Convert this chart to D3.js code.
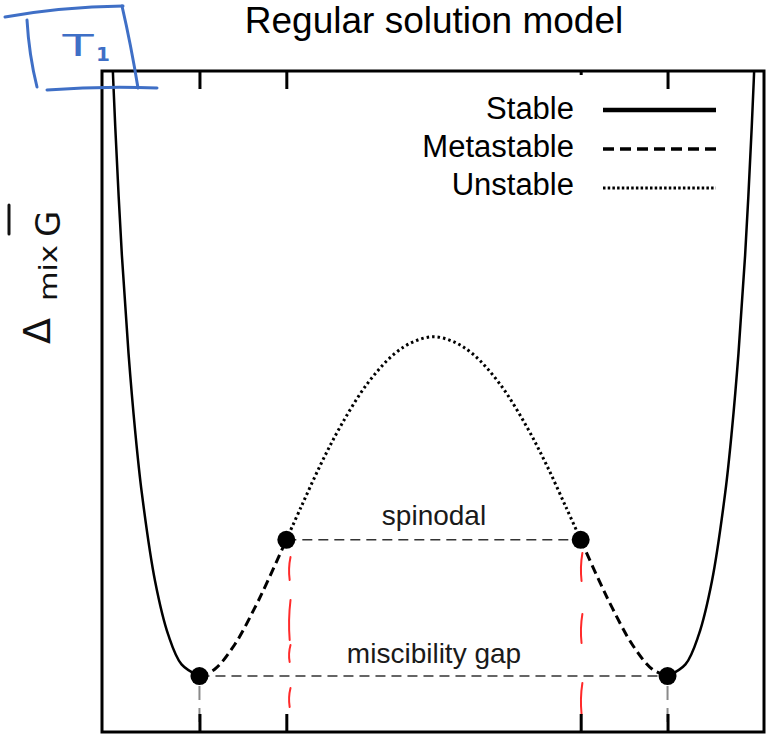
<!DOCTYPE html>
<html>
<head>
<meta charset="utf-8">
<script src="https://cdn.jsdelivr.net/npm/d3@7"></script>
<style>
  html, body { margin: 0; padding: 0; background: #fff; }
  svg { display: block; }
</style>
</head>
<body>
<svg id="chart" width="768" height="735"></svg>
<script>
// ---- data ----
const compositionX = [0.01, 0.015, 0.02, 0.03, 0.04, 0.05, 0.06, 0.08, 0.10, 0.12, 0.147, 0.17, 0.20, 0.23, 0.25, 0.278, 0.30, 0.33, 0.36, 0.40, 0.44, 0.47, 0.50,
  0.53, 0.56, 0.60, 0.64, 0.67, 0.70, 0.722, 0.75, 0.77, 0.80, 0.83, 0.853, 0.88, 0.90, 0.92, 0.94, 0.95, 0.96, 0.97, 0.98, 0.985, 0.99];
const gibbsG = [-0.0314, -0.0411, -0.0492, -0.0623, -0.0723, -0.0802, -0.0865, -0.0955, -0.1010, -0.1040, -0.1052, -0.1045, -0.1020, -0.0983, -0.0955, -0.0913, -0.0880, -0.0836, -0.0797, -0.0754, -0.0724, -0.0711, -0.0706,
  -0.0711, -0.0724, -0.0754, -0.0797, -0.0836, -0.0880, -0.0913, -0.0955, -0.0983, -0.1020, -0.1045, -0.1052, -0.1040, -0.1010, -0.0955, -0.0865, -0.0802, -0.0723, -0.0623, -0.0492, -0.0411, -0.0314];
const binodalX = [0.147, 0.853];
const spinodalX = [0.278, 0.722];
const binodalG = -0.1052;
const spinodalG = -0.0913;
const legendLabels = ["Stable", "Metastable", "Unstable"];
const titleText = "Regular solution model";
const spinodalLabel = "spinodal";
const gapLabel = "miscibility gap";

// ---- layout ----
const svg = d3.select("#chart");
const L = 102, R = 764, T = 71, B = 732;
const x = d3.scaleLinear().domain([0, 1]).range([L, 765]);
const y = d3.scaleLinear().domain([-0.1109, -0.0435]).range([B, T]);
const font = "'Liberation Sans', Arial, Helvetica, sans-serif";

svg.append("defs").append("clipPath").attr("id", "plotclip")
  .append("rect").attr("x", L).attr("y", T).attr("width", R - L).attr("height", B - T);

// title
svg.append("text").attr("x", 434).attr("y", 33).attr("text-anchor", "middle")
  .attr("font-family", font).attr("font-size", 37).attr("fill", "#000").text(titleText);

// curve segments
const pts = compositionX.map((v, i) => ({ x: v, g: gibbsG[i] }));
const line = d3.line().x(d => x(d.x)).y(d => y(d.g)).curve(d3.curveCatmullRom.alpha(0.5));
const segs = [
  { f: d => d.x <= binodalX[0], type: 0 },
  { f: d => d.x >= binodalX[0] && d.x <= spinodalX[0], type: 1 },
  { f: d => d.x >= spinodalX[0] && d.x <= spinodalX[1], type: 2 },
  { f: d => d.x >= spinodalX[1] && d.x <= binodalX[1], type: 1 },
  { f: d => d.x >= binodalX[1], type: 0 }
];
const styles = [
  { w: 2.5, dash: null },
  { w: 3, dash: "9,5" },
  { w: 3, dash: "2.5,3" }
];
const cg = svg.append("g").attr("clip-path", "url(#plotclip)");
segs.forEach(s => {
  const st = styles[s.type];
  cg.append("path").attr("d", line(pts.filter(s.f)))
    .attr("fill", "none").attr("stroke", "#000").attr("stroke-width", st.w)
    .attr("stroke-dasharray", st.dash);
});

// horizontal tie lines
svg.append("line").attr("x1", x(spinodalX[0])).attr("x2", x(spinodalX[1]))
  .attr("y1", y(spinodalG)).attr("y2", y(spinodalG))
  .attr("stroke", "#333").attr("stroke-width", 1.5).attr("stroke-dasharray", "10,6");
svg.append("line").attr("x1", x(binodalX[0])).attr("x2", x(binodalX[1]))
  .attr("y1", y(binodalG)).attr("y2", y(binodalG))
  .attr("stroke", "#333").attr("stroke-width", 1.5).attr("stroke-dasharray", "10,6");

// gray drop lines below binodal points
binodalX.forEach(b => {
  svg.append("line").attr("x1", x(b)).attr("x2", x(b))
    .attr("y1", y(binodalG) + 10).attr("y2", B - 2)
    .attr("stroke", "#8a8a8a").attr("stroke-width", 2).attr("stroke-dasharray", "14,8");
});

// red hand-drawn dashed lines below spinodal points
const redSegs = [[557, 580], [600, 640], [645, 662], [688, 707]];
const redSegsR = [[553, 581], [614, 643], [683, 714]];
function wobble(x0, a, b, k) {
  return `M${x0 + k},${a} Q${x0 - k},${(a + b) / 2} ${x0 + k * 0.3},${b}`;
}
redSegs.forEach(s => {
  svg.append("path").attr("d", wobble(x(spinodalX[0]) + 3, s[0], s[1], 1.2))
    .attr("fill", "none").attr("stroke", "#ff2a2a").attr("stroke-width", 2).attr("stroke-linecap", "round");
});
redSegsR.forEach(s => {
  svg.append("path").attr("d", wobble(x(spinodalX[1]) + 0.5, s[0], s[1], 1.2))
    .attr("fill", "none").attr("stroke", "#ff2a2a").attr("stroke-width", 2).attr("stroke-linecap", "round");
});

// points
[[binodalX, binodalG], [spinodalX, spinodalG]].forEach(([xs, g]) => {
  xs.forEach(v => svg.append("circle").attr("cx", x(v)).attr("cy", y(g)).attr("r", 9).attr("fill", "#000"));
});

// labels
svg.append("text").attr("x", 434).attr("y", 525).attr("text-anchor", "middle")
  .attr("font-family", font).attr("font-size", 28).attr("fill", "#1a1a1a").text(spinodalLabel);
svg.append("text").attr("x", 434).attr("y", 663).attr("text-anchor", "middle")
  .attr("font-family", font).attr("font-size", 28).attr("fill", "#1a1a1a").text(gapLabel);

// frame
svg.append("rect").attr("x", L).attr("y", T).attr("width", R - L).attr("height", B - T)
  .attr("fill", "none").attr("stroke", "#000").attr("stroke-width", 3);

// ticks (top and bottom, inward)
const tickVals = [binodalX[0], spinodalX[0], spinodalX[1], binodalX[1]];
const bottomAxis = d3.axisBottom(x).tickValues(tickVals).tickSize(-18).tickFormat("");
const ba = svg.append("g").attr("transform", `translate(0,${B})`).call(bottomAxis);
ba.select(".domain").remove();
ba.selectAll(".tick line").attr("stroke", "#000").attr("stroke-width", 3);
const topAxis = d3.axisTop(x).tickValues(tickVals).tickSize(-18).tickFormat("");
const ta = svg.append("g").attr("transform", `translate(0,${T})`).call(topAxis);
ta.select(".domain").remove();
ta.selectAll(".tick line").attr("stroke", "#000").attr("stroke-width", 3)
  .attr("y2", (d, i) => i === 2 ? 4 : 18);

// legend
const legY = [119, 157, 195];
const lineY = [110, 149, 188];
const legStyles = [
  { w: 4.5, dash: null },
  { w: 3.5, dash: "11,6" },
  { w: 3, dash: "2.5,2.2" }
];
legendLabels.forEach((lab, i) => {
  svg.append("text").attr("x", 574).attr("y", legY[i]).attr("text-anchor", "end")
    .attr("font-family", font).attr("font-size", 31).attr("fill", "#000").text(lab);
  svg.append("line").attr("x1", 603).attr("x2", 716).attr("y1", lineY[i]).attr("y2", lineY[i])
    .attr("stroke", "#000").attr("stroke-width", legStyles[i].w).attr("stroke-dasharray", legStyles[i].dash);
});

// handwritten y label: Δ_mix G-bar
const hand = "'DejaVu Sans', sans-serif";
svg.append("text").attr("transform", "translate(50,344) rotate(-90)")
  .attr("font-family", hand).attr("font-size", 38).attr("fill", "#111").text("Δ");
svg.append("text").attr("transform", "translate(57,301) rotate(-90)")
  .attr("font-family", hand).attr("font-size", 24).attr("fill", "#111")
  .attr("textLength", 56).attr("lengthAdjust", "spacingAndGlyphs").text("mix");
svg.append("text").attr("transform", "translate(60,237) rotate(-90)")
  .attr("font-family", hand).attr("font-size", 34).attr("fill", "#111").text("G");
svg.append("line").attr("x1", 9).attr("x2", 9).attr("y1", 205).attr("y2", 234)
  .attr("stroke", "#111").attr("stroke-width", 3).attr("stroke-linecap", "round");

// handwritten blue box with T1
const blue = "#3f6fc6";
const bg = svg.append("g").attr("fill", "none").attr("stroke", blue).attr("stroke-width", 3).attr("stroke-linecap", "round");
bg.append("path").attr("d", "M5,17 Q60,7 123,6");
bg.append("path").attr("d", "M122,6 Q131,45 138,88");
bg.append("path").attr("d", "M27,20 Q29,55 37,87");
bg.append("path").attr("d", "M47,90 Q100,86 157,88");
svg.append("text").attr("transform", "translate(78,56) scale(1.7,1)").attr("text-anchor", "middle")
  .attr("font-family", hand).attr("font-size", 30).attr("fill", blue).text("T");
svg.append("text").attr("x", 103).attr("y", 61).attr("text-anchor", "middle")
  .attr("font-family", hand).attr("font-size", 20).attr("font-weight", "bold").attr("fill", blue).text("1");
</script>
</body>
</html>
